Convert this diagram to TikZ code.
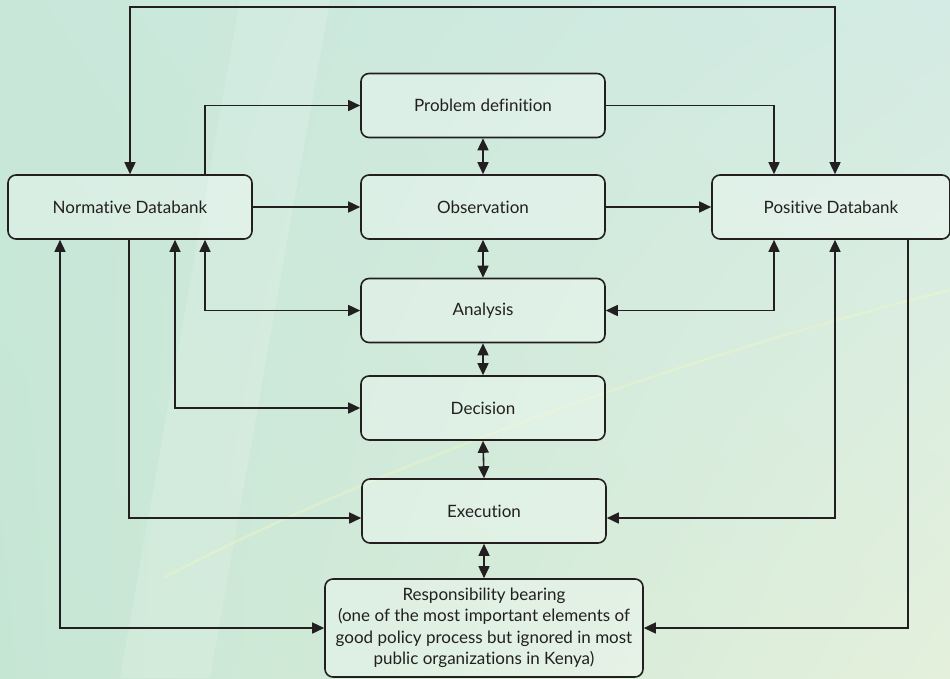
\documentclass[tikz,border=0pt]{standalone}
\usepackage{fontspec}
\setmainfont{Lato}[Ligatures=NoCommon]
\usetikzlibrary{arrows.meta,calc,shadings}
\definecolor{ink}{HTML}{231F20}
\definecolor{bgUL}{HTML}{C8E7D9}
\definecolor{bgUR}{HTML}{D3EBE4}
\definecolor{bgLL}{HTML}{C6E6D4}
\definecolor{bgLR}{HTML}{E4F0DC}
\definecolor{streak}{HTML}{EEF6C6}
\begin{document}
\begin{tikzpicture}[x=1pt,y=-1pt,
  box/.style={draw=ink, line width=1.6pt, rounded corners=8pt, fill=white,
    fill opacity=0.3, text opacity=1, minimum width=244pt, minimum height=64pt,
    inner sep=2pt, text=ink, font=\fontsize{17}{21.5}\selectfont, align=center},
  tip/.tip={Triangle[length=12pt,width=11pt]},
  one/.style={draw=ink, line width=1.6pt, -tip},
  bi/.style={draw=ink, line width=1.6pt, tip-tip}]
\useasboundingbox (0,0) rectangle (950,678);
\begin{scope}
\clip (0,0) rectangle (950,678);
\shade[upper left=bgUL, upper right=bgUR, lower left=bgLL, lower right=bgLR] (0,0) rectangle (950,678);
\fill[white, opacity=0.14] (240,0) -- (330,0) -- (210,678) -- (120,678) -- cycle;
\draw[streak, line width=2.5pt, opacity=0.45, line cap=round] (165,577) .. controls (350,480) and (650,365) .. (950,290);

\node[box] (norm) at (130,207) {Normative Databank};
\node[box] (prob) at (483,105.5) {Problem definition};
\node[box] (obs) at (483,207) {Observation};
\node[box] (ana) at (483,310.5) {Analysis};
\node[box] (dec) at (483,408) {Decision};
\node[box] (exe) at (484,511) {Execution};
\node[box, minimum width=318pt, minimum height=98pt] (resp) at (484,628)
  {Responsibility bearing\\(one of the most important elements of\\good policy process but ignored in most\\public organizations in Kenya)};
\node[box, minimum width=238pt] (pos) at (831,207) {Positive Databank};

\coordinate (yT) at (0,7);
\coordinate (yExe) at (0,518);
\coordinate (xA) at (60,0);
\coordinate (xB) at (129,0);
\coordinate (xC) at (175,0);
\coordinate (xD) at (205,0);
\coordinate (xE) at (774,0);
\coordinate (xF) at (835,0);
\coordinate (xG) at (908,0);

\draw[bi] (norm.north) |- (yT -| xF) -- (pos.north -| xF);
\draw[one] (norm.north -| xD) |- (prob.west);
\draw[one] (norm.east) -- (obs.west);
\draw[one] (prob.east) -| (pos.north -| xE);
\draw[one] (obs.east) -- (pos.west);
\draw[bi] (norm.south -| xD) |- (ana.west);
\draw[bi] (pos.south -| xE) |- (ana.east);
\draw[bi] (norm.south -| xC) |- (dec.west);
\draw[one] (norm.south -| xB) |- (exe.west |- yExe);
\draw[bi] (pos.south -| xF) |- (exe.east |- yExe);
\draw[bi] (norm.south -| xA) |- (resp.west);
\draw[one] (pos.south -| xG) |- (resp.east);

\draw[bi] (prob.south) -- (obs.north);
\draw[bi] (obs.south) -- (ana.north);
\draw[bi] (ana.south) -- (dec.north);
\draw[bi] (dec.south) -- (exe.north);
\draw[bi] (exe.south) -- (resp.north);
\end{scope}
\end{tikzpicture}
\end{document}
